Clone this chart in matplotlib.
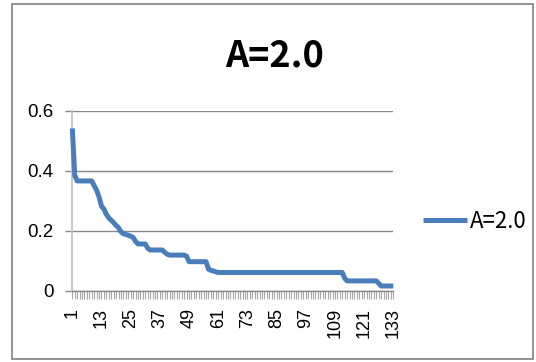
import matplotlib
matplotlib.use("Agg")
import matplotlib.pyplot as plt
from matplotlib import font_manager
from matplotlib.patches import Rectangle

# Series values, one per category 1..133
values = [
    0.541, 0.385, 0.366, 0.366, 0.366, 0.366, 0.366, 0.366, 0.366, 0.350,
    0.335, 0.313, 0.282, 0.272, 0.255, 0.243, 0.235, 0.227, 0.218, 0.210,
    0.197, 0.190, 0.188, 0.185, 0.182, 0.178, 0.165, 0.156, 0.156, 0.156,
    0.156, 0.142, 0.136, 0.136, 0.136, 0.136, 0.136, 0.136, 0.128, 0.122,
    0.119, 0.119, 0.119, 0.119, 0.119, 0.119, 0.119, 0.115, 0.097, 0.097,
    0.097, 0.097, 0.097, 0.097, 0.097, 0.097, 0.072, 0.068, 0.066, 0.063,
]
values += [0.061] * 52          # categories 61..112
values += [0.042]               # 113
values += [0.033] * 13          # 114..126
values += [0.025]               # 127
values += [0.016] * 6           # 128..133

categories = list(range(1, len(values) + 1))
x_tick_labels = [str(c) for c in range(1, 134, 12)]
y_ticks = [0, 0.2, 0.4, 0.6]
y_tick_labels = ["0", "0.2", "0.4", "0.6"]
series_name = "A=2.0"
title_text = "A=2.0"

names = {f.name for f in font_manager.fontManager.ttflist}


def pick(*cands):
    for c in cands:
        if c in names:
            return c
    return "DejaVu Sans"


narrow = pick("Liberation Sans Narrow", "Noto Sans CJK JP", "Lato")
regular = pick("Liberation Sans")

W, H = 536, 362
fig = plt.figure(figsize=(W / 100, H / 100), dpi=100)
fig.patch.set_facecolor("white")

# outer chart frame
fig.add_artist(Rectangle((11.7 / W, 1 - 359 / H), (533 - 11.7) / W, (359 - 4) / H,
                         transform=fig.transFigure, fill=False,
                         edgecolor="#8a8a8a", linewidth=1.3))

left, right = 72.3, 393.3
top, bottom = 110.7, 290.8
ax = fig.add_axes([left / W, 1 - bottom / H, (right - left) / W, (bottom - top) / H])

line_color = "#4a7ebb"
ax.plot(categories, values, color=line_color, linewidth=3.6,
        solid_joinstyle="round", solid_capstyle="butt", label=series_name,
        zorder=3, clip_on=False)

ax.set_xlim(1, len(values))
ax.set_ylim(0, 0.6)

# category tick marks on every point, labels every 12
ax.set_xticks(categories, minor=True)
ax.set_xticks(list(range(1, 134, 12)))
ax.set_xticklabels(x_tick_labels, rotation=90, fontsize=13, family=regular)
ax.tick_params(axis="x", which="both", length=5.5, width=0.8, color="#a8a8a8",
               pad=7, direction="out")

ax.set_yticks(y_ticks)
ax.set_yticklabels(y_tick_labels, fontsize=13.5, family=regular)
ax.tick_params(axis="y", length=5.2, width=1.0, color="#878787", pad=8.4)

ax.grid(axis="y", color="#878787", linewidth=1.0)
ax.set_axisbelow(True)

for s in ("top", "right"):
    ax.spines[s].set_visible(False)
ax.spines["left"].set_color("#c4c4c4")
ax.spines["left"].set_linewidth(1.3)
ax.spines["bottom"].set_color("#878787")
ax.spines["bottom"].set_linewidth(1.0)

fig.text(275 / W, 1 - 66.7 / H, title_text, ha="center", va="baseline",
         fontsize=26, fontweight="bold", family=[narrow, "DejaVu Sans"])

leg = ax.legend(loc="center left", bbox_to_anchor=(423 / W, 1 - 221.7 / H),
                bbox_transform=fig.transFigure, frameon=False, borderpad=0,
                borderaxespad=0, handlelength=2.0, handletextpad=0.1,
                prop={"family": narrow, "size": 16})

fig.savefig("out.png", dpi=100, facecolor="white")
